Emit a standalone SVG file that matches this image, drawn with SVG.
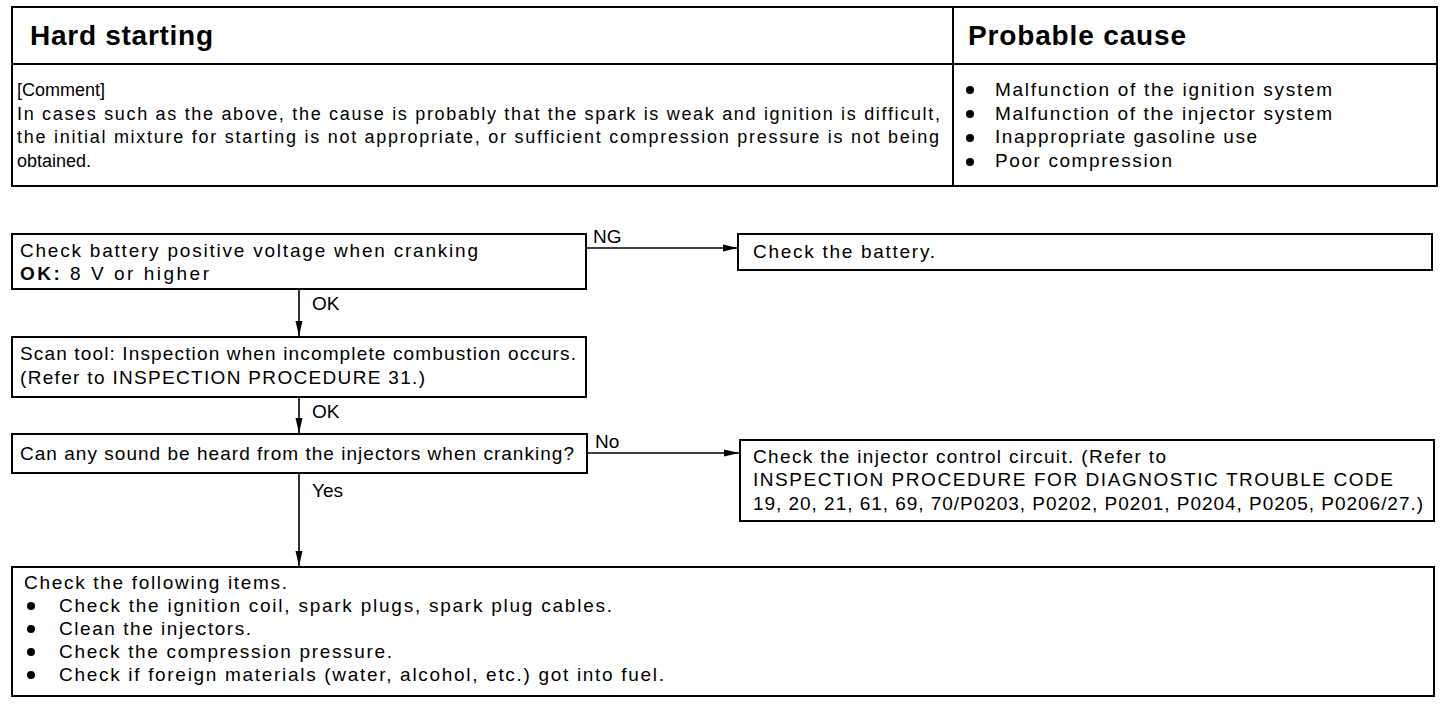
<svg xmlns="http://www.w3.org/2000/svg" width="1456" height="704" viewBox="0 0 1456 704">
<style>
.t{font-family:"Liberation Sans",Arial,sans-serif;font-size:19px;fill:#000}
.c{font-family:"Liberation Sans",Arial,sans-serif;font-size:18px;fill:#000}
.h{font-family:"Liberation Sans",Arial,sans-serif;font-size:28px;font-weight:bold;fill:#000}
.box{fill:#fff;stroke:#000;stroke-width:2}
.ln{stroke:#000;stroke-width:1.6;fill:none}
.b{fill:#000}
</style>
<defs>
<marker id="ah" markerUnits="userSpaceOnUse" markerWidth="16" markerHeight="8" refX="15" refY="4" orient="auto">
<path d="M0,0.5 L15,4 L0,7.5 z" fill="#000"/>
</marker>
</defs>
<rect width="1456" height="704" fill="#fff"/>

<g id="header-table">
<rect class="box" x="12" y="7" width="1425" height="179"/>
<line class="ln" x1="12" y1="64" x2="1437" y2="64" style="stroke-width:2"/>
<line class="ln" x1="953" y1="7" x2="953" y2="186" style="stroke-width:2"/>
<text class="h" x="30" y="45" textLength="183">Hard starting</text>
<text class="h" x="968" y="45" textLength="218">Probable cause</text>
<text class="c" x="17" y="96">[Comment]</text>
<text class="c" x="17" y="120" textLength="923">In cases such as the above, the cause is probably that the spark is weak and ignition is difficult,</text>
<text class="c" x="17" y="143" textLength="922">the initial mixture for starting is not appropriate, or sufficient compression pressure is not being</text>
<text class="c" x="17" y="167">obtained.</text>
<circle class="b" cx="970" cy="90" r="4"/>
<circle class="b" cx="970" cy="114" r="4"/>
<circle class="b" cx="970" cy="138" r="4"/>
<circle class="b" cx="970" cy="162" r="4"/>
<text class="t" x="995" y="96" textLength="337">Malfunction of the ignition system</text>
<text class="t" x="995" y="120" textLength="337">Malfunction of the injector system</text>
<text class="t" x="995" y="143" textLength="262">Inappropriate gasoline use</text>
<text class="t" x="995" y="167" textLength="177">Poor compression</text>
</g>

<g id="connectors">
<line class="ln" x1="586" y1="248" x2="738" y2="248" marker-end="url(#ah)"/>
<line class="ln" x1="299" y1="289" x2="299" y2="336" marker-end="url(#ah)"/>
<line class="ln" x1="299" y1="397" x2="299" y2="433" marker-end="url(#ah)"/>
<line class="ln" x1="587" y1="453" x2="739" y2="453" marker-end="url(#ah)"/>
<line class="ln" x1="299" y1="473" x2="299" y2="566" marker-end="url(#ah)"/>
<text class="t" x="593" y="243">NG</text>
<text class="t" x="312" y="310">OK</text>
<text class="t" x="312" y="418">OK</text>
<text class="t" x="595" y="448">No</text>
<text class="t" x="312" y="497">Yes</text>
</g>

<g id="node-battery-voltage">
<rect class="box" x="12" y="234" width="574" height="55"/>
<text class="t" x="20" y="257" textLength="458">Check battery positive voltage when cranking</text>
<text class="t" x="20" y="280" textLength="189"><tspan font-weight="bold">OK:</tspan> 8 V or higher</text>
</g>

<g id="node-check-battery">
<rect class="box" x="738" y="234" width="694" height="36"/>
<text class="t" x="753" y="258" textLength="182">Check the battery.</text>
</g>

<g id="node-scan-tool">
<rect class="box" x="12" y="337" width="574" height="60"/>
<text class="t" x="20" y="360" textLength="556">Scan tool: Inspection when incomplete combustion occurs.</text>
<text class="t" x="20" y="384" textLength="405">(Refer to INSPECTION PROCEDURE 31.)</text>
</g>

<g id="node-injector-sound">
<rect class="box" x="12" y="434" width="575" height="39"/>
<text class="t" x="20" y="460" textLength="554">Can any sound be heard from the injectors when cranking?</text>
</g>

<g id="node-injector-circuit">
<rect class="box" x="740" y="440" width="694" height="81"/>
<text class="t" x="753" y="463" textLength="413">Check the injector control circuit. (Refer to</text>
<text class="t" x="753" y="486" textLength="640">INSPECTION PROCEDURE FOR DIAGNOSTIC TROUBLE CODE</text>
<text class="t" x="753" y="510" textLength="670">19, 20, 21, 61, 69, 70/P0203, P0202, P0201, P0204, P0205, P0206/27.)</text>
</g>

<g id="node-check-items">
<rect class="box" x="12" y="567" width="1422" height="129"/>
<text class="t" x="24" y="589" textLength="263">Check the following items.</text>
<circle class="b" cx="31" cy="606" r="4"/>
<circle class="b" cx="31" cy="629" r="4"/>
<circle class="b" cx="31" cy="652" r="4"/>
<circle class="b" cx="31" cy="675" r="4"/>
<text class="t" x="59" y="612" textLength="553">Check the ignition coil, spark plugs, spark plug cables.</text>
<text class="t" x="59" y="635" textLength="192">Clean the injectors.</text>
<text class="t" x="59" y="658" textLength="333">Check the compression pressure.</text>
<text class="t" x="59" y="681" textLength="605">Check if foreign materials (water, alcohol, etc.) got into fuel.</text>
</g>
</svg>
